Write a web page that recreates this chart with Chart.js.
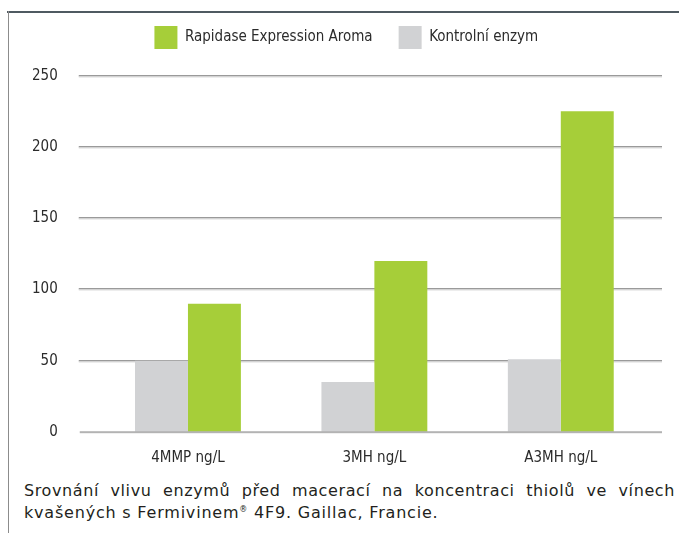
<!DOCTYPE html>
<html lang="cs">
<head>
<meta charset="utf-8">
<title>Srovnání vlivu enzymů</title>
<script src="https://cdn.jsdelivr.net/npm/chart.js@4/dist/chart.umd.min.js"></script>
<style>
  html, body { margin: 0; padding: 0; background: #fff; }
  #page { position: relative; width: 679px; height: 533px; overflow: hidden; }
  #chart { position: absolute; left: 0; top: 0; }
  .frame-top { position: absolute; left: 7px; top: 11px; width: 672px; height: 2px; background: #4f5a61; }
  .frame-left { position: absolute; left: 8px; top: 11px; width: 1px; height: 522px; background: #8c8c8c; }
  .caption {
    position: absolute; left: 24px; top: 480px; width: 651px;
    font-family: "DejaVu Sans", sans-serif; font-size: 16px; line-height: 21.5px;
    letter-spacing: 0.8px; color: #231f20;
  }
  .caption .l1 { text-align: justify; text-align-last: justify; white-space: nowrap; letter-spacing: 0.6px; }
  .caption sup { font-size: 8px; vertical-align: 6px; line-height: 0; }
</style>
</head>
<body>
<div id="page">
  <canvas id="chart" width="679" height="470"></canvas>
  <div class="frame-top"></div>
  <div class="frame-left"></div>
  <div class="caption">
    <div class="l1">Srovnání vlivu enzymů před macerací na koncentraci thiolů ve vínech</div>
    <div>kvašených s Fermivinem<sup>®</sup> 4F9. Gaillac, Francie.</div>
  </div>
</div>
<script>
// data
const categories = ['4MMP ng/L', '3MH ng/L', 'A3MH ng/L'];
const rapidaseValues = [90, 120, 225];
const kontrolniValues = [50, 35, 51];
const yTickValues = [0, 50, 100, 150, 200, 250];

const GREEN = '#a6ce39';
const GREY = '#d1d2d4';
const NARROW = '"DejaVu Sans", sans-serif';

// legend block gets a fixed height so the plot starts where the 250 line is,
// and is nudged right so the two items sit where they do in the original
const legendSpacer = {
    id: 'legendSpacer',
    beforeInit(chart) {
        const fit = chart.legend.fit;
        chart.legend.fit = function () {
            fit.bind(chart.legend)();
            this.height = 75.7;
        };
    },
    afterLayout(chart) {
        chart.legend.left = 72;
    }
};

// condensed text everywhere on the canvas
const condensed = {
    id: 'condensed',
    beforeLayout(chart) { chart.ctx.fontStretch = 'condensed'; },
    beforeDraw(chart) { chart.ctx.fontStretch = 'condensed'; }
};

// horizontal grid lines, a bit wider than the plot area, drawn under the bars
const gridLines = {
    id: 'gridLines',
    beforeDatasetsDraw(chart) {
        const { ctx, chartArea, scales } = chart;
        const left = chartArea.left - 16;
        const right = chartArea.right + 8;
        ctx.save();
        scales.y.ticks.forEach(t => {
            if (t.value === 0) return;
            const y = Math.round(scales.y.getPixelForValue(t.value));
            ctx.fillStyle = '#9a9a9a';
            ctx.fillRect(left, y - 1, right - left, 1.5);
            ctx.fillStyle = '#dcdcdc';
            ctx.fillRect(left, y + 0.5, right - left, 1);
        });
        ctx.restore();
    },
    afterDatasetsDraw(chart) {
        const { ctx, chartArea, scales } = chart;
        const y = scales.y.getPixelForValue(0);
        ctx.save();
        ctx.fillStyle = '#b3b3b3';
        ctx.fillRect(chartArea.left - 15, y - 0.8, chartArea.right - chartArea.left + 23, 2);
        ctx.restore();
    }
};

const chart = new Chart(document.getElementById('chart'), {
    type: 'bar',
    data: {
        labels: categories,
        datasets: [
            {
                label: 'Kontrolní enzym',
                data: kontrolniValues,
                backgroundColor: GREY,
                borderWidth: 0
            },
            {
                label: 'Rapidase Expression Aroma',
                data: rapidaseValues,
                backgroundColor: GREEN,
                borderWidth: 0
            }
        ]
    },
    options: {
        responsive: false,
        animation: false,
        devicePixelRatio: 1,
        layout: { padding: { left: 0, right: 25, top: 0, bottom: 0 } },
        datasets: {
            bar: { categoryPercentage: 0.568, barPercentage: 1 }
        },
        plugins: {
            legend: {
                position: 'top',
                reverse: true,
                labels: {
                    boxWidth: 23,
                    boxHeight: 23,
                    padding: 26,
                    color: '#2b2b2b',
                    font: { family: NARROW, size: 15 }
                }
            },
            tooltip: { enabled: false }
        },
        scales: {
            x: {
                grid: { display: false },
                border: { display: false },
                ticks: {
                    padding: 9,
                    color: '#2b2b2b',
                    font: { family: NARROW, size: 15 }
                },
                afterFit(scale) { scale.height = 36.7; }
            },
            y: {
                min: 0,
                max: 250,
                grid: { display: false },
                border: { display: false },
                afterBuildTicks(scale) {
                    scale.ticks = yTickValues.map(v => ({ value: v }));
                },
                ticks: {
                    padding: 29,
                    color: '#2b2b2b',
                    font: { family: NARROW, size: 15 }
                },
                afterFit(scale) { scale.width = 94.75; }
            }
        }
    },
    plugins: [condensed, legendSpacer, gridLines]
});
</script>
</body>
</html>
